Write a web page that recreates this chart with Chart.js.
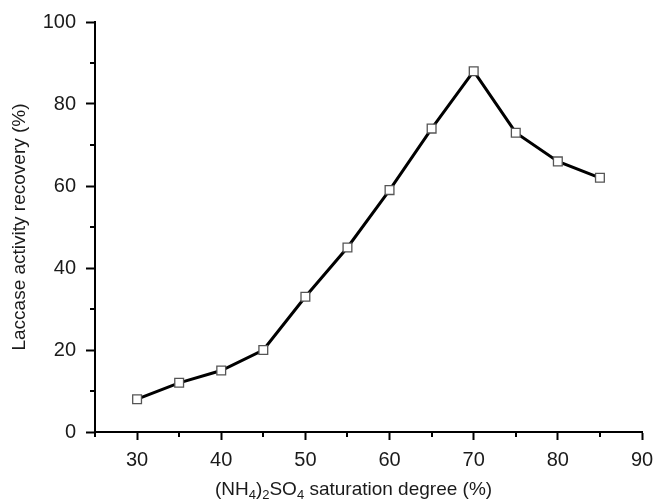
<!DOCTYPE html>
<html>
<head>
<meta charset="utf-8">
<script src="https://cdn.jsdelivr.net/npm/chart.js@4.4.1/dist/chart.umd.min.js"></script>
<style>
  html, body { margin: 0; padding: 0; background: #fff; }
  #wrap { width: 656px; height: 499px; }
</style>
</head>
<body>
<div id="wrap"><canvas id="c" width="656" height="499"></canvas></div>
<script>
const saturation = [30, 35, 40, 45, 50, 55, 60, 65, 70, 75, 80, 85];
const recovery = [8, 12, 15, 20, 33, 45, 59, 74, 88, 73, 66, 62];
const xTicks = [30, 40, 50, 60, 70, 80, 90];
const xMinorTicks = [25, 35, 45, 55, 65, 75, 85];
const yTicks = [0, 20, 40, 60, 80, 100];
const yMinorTicks = [10, 30, 50, 70, 90];
const yTitle = 'Laccase activity recovery (%)';
const xTitleParts = [['(NH', false], ['4', true], [')', false], ['2', true], ['SO', false], ['4', true], [' saturation degree (%)', false]];

const FONT = '"Liberation Sans", Arial, sans-serif';
const TXT = '#1a1a1a';

const decor = {
  id: 'decor',
  afterDraw(chart) {
    const ctx = chart.ctx;
    const xs = chart.scales.x, ys = chart.scales.y;
    const area = chart.chartArea;
    ctx.save();
    ctx.strokeStyle = '#000';
    ctx.lineWidth = 2;
    xMinorTicks.forEach(v => {
      const px = Math.round(xs.getPixelForValue(v));
      ctx.beginPath(); ctx.moveTo(px, area.bottom); ctx.lineTo(px, area.bottom + 5); ctx.stroke();
    });
    yMinorTicks.forEach(v => {
      const py = Math.round(ys.getPixelForValue(v));
      ctx.beginPath(); ctx.moveTo(area.left, py); ctx.lineTo(area.left - 5, py); ctx.stroke();
    });
    ctx.fillStyle = TXT;
    ctx.font = '19px ' + FONT;
    ctx.textAlign = 'center';
    ctx.textBaseline = 'middle';
    ctx.translate(20, (area.top + area.bottom) / 2);
    ctx.rotate(-Math.PI / 2);
    ctx.fillText(yTitle, 0, 0);
    ctx.restore();

    ctx.save();
    ctx.fillStyle = TXT;
    ctx.textBaseline = 'alphabetic';
    ctx.textAlign = 'left';
    const big = '19px ' + FONT, small = '13px ' + FONT;
    let total = 0;
    xTitleParts.forEach(([t, sub]) => { ctx.font = sub ? small : big; total += ctx.measureText(t).width; });
    let x = (area.left + area.right) / 2 - 15 - total / 2;
    const base = 494.5;
    xTitleParts.forEach(([t, sub]) => {
      ctx.font = sub ? small : big;
      ctx.fillText(t, x, sub ? base + 4 : base);
      x += ctx.measureText(t).width;
    });
    ctx.restore();
  }
};

new Chart(document.getElementById('c'), {
  type: 'line',
  data: {
    datasets: [{
      data: saturation.map((s, i) => ({ x: s, y: recovery[i] })),
      borderColor: '#000',
      borderWidth: 3,
      tension: 0,
      pointStyle: 'rect',
      pointRadius: 6.2,
      pointBorderWidth: 1.3,
      pointBorderColor: '#555',
      pointBackgroundColor: '#fff',
      fill: false
    }]
  },
  options: {
    responsive: false,
    animation: false,
    events: [],
    layout: { padding: { left: 0, top: 22, right: 14, bottom: 0 } },
    plugins: { legend: { display: false }, tooltip: { enabled: false } },
    scales: {
      x: {
        type: 'linear',
        min: 25, max: 90,
        afterBuildTicks: s => { s.ticks = xTicks.map(v => ({ value: v })); },
        afterFit: s => { s.height = 67; s.paddingLeft = 0; s.paddingRight = 0; },
        grid: { display: true, drawOnChartArea: false, drawTicks: true, tickLength: 8, tickWidth: 2, tickColor: '#000' },
        border: { display: true, color: '#000', width: 2 },
        ticks: { color: TXT, font: { family: FONT, size: 20 }, padding: 8, maxRotation: 0, autoSkip: false },
        title: { display: false }
      },
      y: {
        type: 'linear',
        min: 0, max: 100,
        afterBuildTicks: s => { s.ticks = yTicks.map(v => ({ value: v })); },
        afterFit: s => { s.width = 95; s.paddingTop = 0; s.paddingBottom = 0; },
        grid: { display: true, drawOnChartArea: false, drawTicks: true, tickLength: 9, tickWidth: 2, tickColor: '#000' },
        border: { display: true, color: '#000', width: 2 },
        ticks: { color: TXT, font: { family: FONT, size: 20 }, padding: 10, autoSkip: false },
        title: { display: false }
      }
    }
  },
  plugins: [decor]
});
</script>
</body>
</html>
